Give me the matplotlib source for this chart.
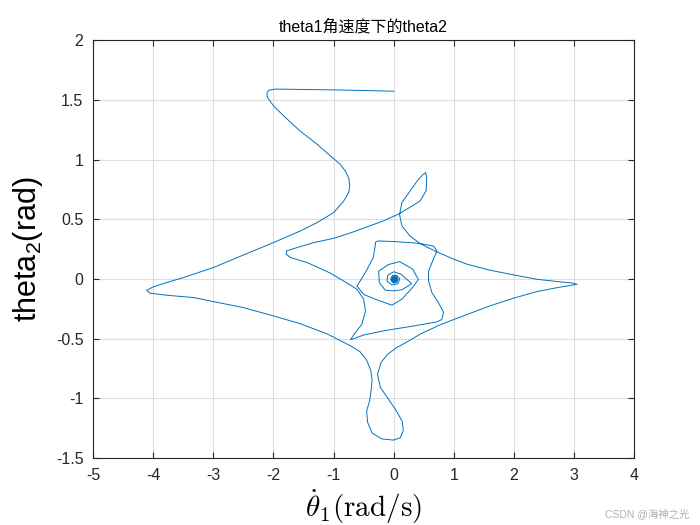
import numpy as np
import matplotlib
matplotlib.use('Agg')
import matplotlib.pyplot as plt

plt.rcParams['font.family'] = ['Liberation Sans', 'Noto Sans CJK SC', 'DejaVu Sans']
plt.rcParams['axes.unicode_minus'] = False
plt.rcParams['mathtext.fontset'] = 'custom'
plt.rcParams['mathtext.rm'] = 'Liberation Sans'
plt.rcParams['mathtext.it'] = 'Liberation Sans'

# theta1 angular velocity (rad/s) and theta2 (rad) in path order
omega1 = [0.0, -0.5, -1.0, -1.5, -1.97, -2.08, -2.11, -2.10, -2.0, -1.83, -1.56, -1.28, -1.03,
          -0.89, -0.80, -0.745, -0.732, -0.745, -0.78, -0.835, -1.0, -1.28, -1.56, -2.0, -2.55,
          -3.0, -3.5, -3.83, -4.0, -4.11, -4.05, -3.77, -3.33, -3.0, -2.5, -2.0, -1.56, -1.11,
          -0.72, -0.56, -0.45, -0.38, -0.36, -0.375, -0.40, -0.45, -0.435, -0.36, -0.20, 0.0,
          0.11, 0.16, 0.14, 0.025, -0.11, -0.22, -0.27, -0.21, -0.10, 0.05, 0.25, 0.45, 0.77,
          1.0, 1.6, 1.99, 2.38, 2.72, 3.05, 2.98, 2.72, 2.38, 1.99, 1.6, 1.22, 1.0, 0.77, 0.6,
          0.44, 0.27, 0.136, 0.097, 0.136, 0.25, 0.39, 0.48, 0.53, 0.55, 0.54, 0.44, 0.27,
          0.097, -0.17, -0.45, -0.72, -1.0, -1.33, -1.61, -1.78, -1.79, -1.72, -1.44, -1.06,
          -0.835, -0.61, -0.50, -0.47, -0.53, -0.64, -0.72, -0.50, -0.17, 0.33, 0.72, 0.80,
          0.83, 0.745, 0.635, 0.58, 0.58, 0.66, 0.72, 0.66, 0.385, 0.0, -0.26, -0.30, -0.31,
          -0.34, -0.45, -0.61, -0.50, -0.28, -0.03, 0.136, 0.30, 0.41, 0.32, 0.10, -0.09,
          -0.25, -0.24, -0.14, 0.0, 0.14, 0.30, 0.12, 0.0, -0.10, -0.11, -0.03, 0.07, 0.10,
          0.05, -0.02, -0.05, -0.02, 0.02, 0.03, 0.0, -0.02, 0.0, 0.01, 0.0]
theta2 = [1.572, 1.578, 1.583, 1.587, 1.59, 1.58, 1.555, 1.52, 1.45, 1.365, 1.24, 1.13, 1.02,
          0.96, 0.90, 0.84, 0.78, 0.73, 0.695, 0.65, 0.555, 0.47, 0.40, 0.304, 0.19, 0.095,
          0.011, -0.039, -0.067, -0.095, -0.12, -0.137, -0.156, -0.19, -0.24, -0.31, -0.374,
          -0.46, -0.56, -0.61, -0.68, -0.77, -0.85, -0.93, -1.02, -1.105, -1.20, -1.29, -1.34,
          -1.35, -1.33, -1.27, -1.19, -1.09, -0.99, -0.91, -0.80, -0.70, -0.63, -0.575, -0.52,
          -0.46, -0.385, -0.34, -0.226, -0.162, -0.106, -0.073, -0.045, -0.035, -0.022,
          -0.003, 0.034, 0.073, 0.123, 0.165, 0.215, 0.255, 0.296, 0.36, 0.444, 0.54, 0.64,
          0.72, 0.82, 0.87, 0.89, 0.85, 0.74, 0.653, 0.60, 0.547, 0.486, 0.435, 0.385, 0.34,
          0.304, 0.262, 0.235, 0.207, 0.18, 0.137, 0.05, -0.017, -0.087, -0.17, -0.27, -0.38,
          -0.45, -0.51, -0.47, -0.435, -0.394, -0.36, -0.34, -0.28, -0.2, -0.115, -0.017,
          0.067, 0.165, 0.235, 0.276, 0.30, 0.313, 0.318, 0.31, 0.27, 0.18, 0.073, -0.06,
          -0.13, -0.175, -0.22, -0.17, -0.08, -0.005, 0.08, 0.145, 0.12, 0.065, -0.03, -0.095,
          -0.10, -0.09, -0.04, 0.04, 0.06, 0.03, -0.02, -0.05, -0.04, 0.0, 0.03, 0.03, 0.0,
          -0.02, -0.01, 0.015, 0.0, -0.01, 0.0, 0.005, 0.0]

fig = plt.figure(figsize=(7, 5.25), dpi=100)
ax = fig.add_axes([0.133, 0.1276, 0.773, 0.796])
ax.plot(omega1, theta2, color='#0072BD', linewidth=0.7)
ax.plot(omega1[-1], theta2[-1], 'o', color='#0072BD', markersize=4.5)

ax.set_xlim(-5, 4)
ax.set_ylim(-1.5, 2)
ax.set_xticks(np.arange(-5, 5, 1))
ax.set_yticks(np.arange(-1.5, 2.01, 0.5))
ax.set_yticklabels(['-1.5', '-1', '-0.5', '0', '0.5', '1', '1.5', '2'])
ax.grid(True, color='#dedede', linewidth=0.8)
ax.set_axisbelow(True)
ax.tick_params(direction='in', length=4, labelsize=11.5, colors='#262626', pad=7,
               top=True, right=True, labeltop=False, labelright=False)
for s in ax.spines.values():
    s.set_color('#262626')
    s.set_linewidth(0.8)

ax.set_title('theta1角速度下的theta2', fontsize=11.5, color='#000000', pad=6)
ax.set_xlabel(r'$\dot{\theta}_1(\mathrm{rad/s})$', fontsize=21, math_fontfamily='cm',
              labelpad=3)
ax.set_ylabel(r'theta$_2$(rad)', fontsize=22, math_fontfamily='custom', labelpad=8)

fig.text(0.985, 0.012, 'CSDN @海神之光', ha='right', va='bottom', fontsize=7.5,
         color='#b0b0b0', family=['Liberation Sans', 'Noto Sans CJK SC'])

fig.savefig('out.png', dpi=100)
